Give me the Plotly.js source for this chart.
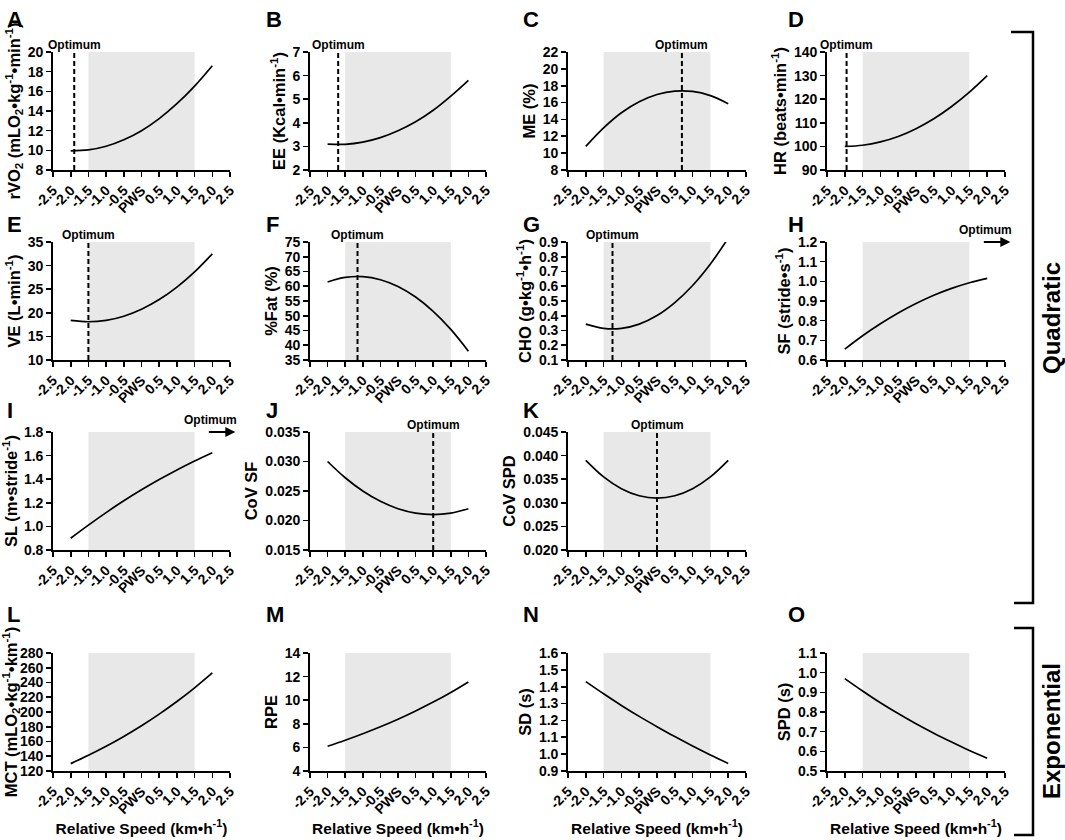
<!DOCTYPE html>
<html>
<head>
<meta charset="utf-8">
<script src="https://cdn.plot.ly/plotly-3.0.1.min.js"></script>
<style>
  body { margin: 0; background: #fff; }
  #chart { width: 1065px; height: 840px; }
</style>
</head>
<body>
<div id="chart"></div>
<script>
// relative speed (km/h from PWS) where the fitted curves were read
const speed = [-2.0, -1.5, -1.0, -0.5, 0.0, 0.5, 1.0, 1.5, 2.0];
const xTickVals = [-2.5, -2.0, -1.5, -1.0, -0.5, 0, 0.5, 1.0, 1.5, 2.0, 2.5];
const xTickText = ["-2.5", "-2.0", "-1.5", "-1.0", "-0.5", "PWS", "0.5", "1.0", "1.5", "2.0", "2.5"];
// grey band round the preferred walking speed
const pwsBand = [-1.5, 1.5];

// quadratic fits
const rVO2 = [9.95, 10.04, 10.41, 11.07, 12.00, 13.23, 14.74, 16.53, 18.60];
const EE = [3.10, 3.09, 3.18, 3.37, 3.66, 4.04, 4.53, 5.13, 5.80];
const ME = [10.8, 13.0, 14.8, 16.1, 16.96, 17.36, 17.32, 16.82, 15.87];
const HR = [100.0, 100.5, 101.9, 104.2, 107.5, 111.7, 116.9, 123.0, 130.0];
const VE = [18.39, 18.10, 18.39, 19.28, 20.75, 22.80, 25.45, 28.68, 32.50];
const pctFat = [61.46, 62.99, 63.24, 62.22, 59.93, 56.36, 51.51, 45.39, 38.0];
const CHO = [0.343, 0.314, 0.314, 0.343, 0.401, 0.489, 0.605, 0.751, 0.926];
const SF = [0.655, 0.723, 0.784, 0.839, 0.887, 0.929, 0.964, 0.993, 1.015];
const SL = [0.90, 1.011, 1.117, 1.217, 1.31, 1.397, 1.479, 1.555, 1.625];
const covSF = [0.030, 0.02725, 0.025, 0.02325, 0.022, 0.02125, 0.021, 0.02125, 0.022];
const covSPD = [0.039, 0.0355, 0.033, 0.0315, 0.031, 0.0315, 0.033, 0.0355, 0.039];
// exponential fits
const MCT = [130.0, 141.3, 153.5, 166.8, 181.3, 197.1, 214.2, 232.8, 253.0];
const RPE = [6.10, 6.61, 7.16, 7.75, 8.39, 9.09, 9.84, 10.66, 11.55];
const SD = [1.43, 1.358, 1.289, 1.224, 1.163, 1.104, 1.048, 0.995, 0.945];
const SPD = [0.97, 0.907, 0.847, 0.792, 0.740, 0.692, 0.647, 0.604, 0.565];

// optimum speed per panel (null = none, "up" = above the tested range)
const optimumSpeed = [-1.9, -1.7, 0.7, -1.95, -1.5, -1.15, -1.25, "up", "up", 1.0, 0.0, null, null, null, null];

// panels: letter, series, y title, y range, tick step, tick format, grid cell
const panels = [
  { letter: "A", y: rVO2, title: "rVO<sub>2</sub> (mLO<sub>2</sub>•kg<sup>-1</sup>•min<sup>-1</sup>)", range: [8, 20], dtick: 2, fmt: "", col: 0, row: 0 },
  { letter: "B", y: EE, title: "EE (Kcal•min<sup>-1</sup>)", range: [2, 7], dtick: 1, fmt: "", col: 1, row: 0 },
  { letter: "C", y: ME, title: "ME (%)", range: [8, 22], dtick: 2, fmt: "", col: 2, row: 0 },
  { letter: "D", y: HR, title: "HR (beats•min<sup>-1</sup>)", range: [90, 140], dtick: 10, fmt: "", col: 3, row: 0 },
  { letter: "E", y: VE, title: "VE (L•min<sup>-1</sup>)", range: [10, 35], dtick: 5, fmt: "", col: 0, row: 1 },
  { letter: "F", y: pctFat, title: "%Fat (%)", range: [35, 75], dtick: 5, fmt: "", col: 1, row: 1 },
  { letter: "G", y: CHO, title: "CHO (g•kg<sup>-1</sup>•h<sup>-1</sup>)", range: [0.1, 0.9], dtick: 0.1, fmt: ".1f", col: 2, row: 1 },
  { letter: "H", y: SF, title: "SF (stride•s<sup>-1</sup>)", range: [0.6, 1.2], dtick: 0.1, fmt: ".1f", col: 3, row: 1 },
  { letter: "I", y: SL, title: "SL (m•stride<sup>-1</sup>)", range: [0.8, 1.8], dtick: 0.2, fmt: ".1f", col: 0, row: 2 },
  { letter: "J", y: covSF, title: "CoV SF", range: [0.015, 0.035], dtick: 0.005, fmt: ".3f", col: 1, row: 2 },
  { letter: "K", y: covSPD, title: "CoV SPD", range: [0.020, 0.045], dtick: 0.005, fmt: ".3f", col: 2, row: 2 },
  { letter: "L", y: MCT, title: "MCT (mLO<sub>2</sub>•kg<sup>-1</sup>•km<sup>-1</sup>)", range: [120, 280], dtick: 20, fmt: "", col: 0, row: 3 },
  { letter: "M", y: RPE, title: "RPE", range: [4, 14], dtick: 2, fmt: "", col: 1, row: 3 },
  { letter: "N", y: SD, title: "SD (s)", range: [0.9, 1.6], dtick: 0.1, fmt: ".1f", col: 2, row: 3 },
  { letter: "O", y: SPD, title: "SPD (s)", range: [0.5, 1.1], dtick: 0.1, fmt: ".1f", col: 3, row: 3 }
];

// plot areas in page pixels
const W = 1065, H = 840;
const colPx = [[53, 230], [310, 486], [568, 746], [827, 1005]];
const rowPx = [[52, 170], [242, 360], [432, 550], [653, 771]];
const letterX = [5, 264, 521, 786];
const letterY = [5, 210, 396, 600];

const FONT = "Liberation Sans, Arial, sans-serif";
const boldFont = (size) => ({ family: FONT, size: size, color: "#000", weight: 700 });
const px = (v) => v / W, py = (v) => 1 - v / H;

let traces = [];
let shapes = [];
let annotations = [];
let layout = {
  width: W,
  height: H,
  margin: { l: 0, r: 0, t: 0, b: 0 },
  paper_bgcolor: "#fff",
  plot_bgcolor: "rgba(0,0,0,0)",
  showlegend: false,
  font: boldFont(14)
};

panels.forEach((p, i) => {
  let n = i === 0 ? "" : String(i + 1);
  let xa = "x" + n, ya = "y" + n;
  let bottomRow = p.row === 3;
  let cx = colPx[p.col], ry = rowPx[p.row];

  traces.push({
    x: speed, y: p.y, xaxis: xa, yaxis: ya,
    type: "scatter", mode: "lines",
    line: { color: "#000", width: 1.7, shape: "spline" },
    hoverinfo: "skip"
  });

  layout["xaxis" + n] = {
    domain: [px(cx[0]), px(cx[1])],
    anchor: ya,
    range: [-2.5, 2.5],
    tickmode: "array", tickvals: xTickVals, ticktext: xTickText,
    tickangle: -45,
    ticks: "outside", ticklen: 5, tickwidth: 1.6, tickcolor: "#000",
    showline: true, linecolor: "#000", linewidth: 1.8,
    showgrid: false, zeroline: false,
    tickfont: boldFont(14),
    title: bottomRow ? { text: "Relative Speed (km•h<sup>-1</sup>)", font: boldFont(15.5), standoff: 5 } : { text: "" }
  };
  layout["yaxis" + n] = {
    domain: [py(ry[1]), py(ry[0])],
    anchor: xa,
    range: p.range,
    dtick: p.dtick, tick0: p.range[0], tickformat: p.fmt,
    ticks: "outside", ticklen: 5, tickwidth: 1.6, tickcolor: "#000",
    showline: true, linecolor: "#000", linewidth: 1.8,
    showgrid: false, zeroline: false,
    tickfont: boldFont(14),
    title: { text: p.title, font: boldFont(16.5), standoff: 3 }
  };

  // PWS band
  shapes.push({
    type: "rect", layer: "below", xref: xa, yref: ya + " domain",
    x0: pwsBand[0], x1: pwsBand[1], y0: 0, y1: 1,
    fillcolor: "#e8e8e8", line: { width: 0 }
  });

  let opt = optimumSpeed[i];
  if (typeof opt === "number") {
    shapes.push({
      type: "line", xref: xa, yref: ya + " domain",
      x0: opt, x1: opt, y0: 0, y1: 1,
      line: { color: "#000", width: 2, dash: "5px,3px" }
    });
    annotations.push({
      xref: xa, yref: ya + " domain", x: opt, y: 1,
      xanchor: "center", yanchor: "bottom", yshift: -2,
      text: "Optimum", showarrow: false, font: boldFont(12)
    });
  } else if (opt === "up") {
    // optimum lies beyond the right end of the axis: text and arrow outside the plot
    let unit = (cx[1] - cx[0]) / 5;
    annotations.push({
      xref: "paper", yref: "paper", x: px(cx[0] + 4.45 * unit), y: py(ry[0]),
      xanchor: "center", yanchor: "bottom", yshift: 3,
      text: "Optimum", showarrow: false, font: boldFont(12)
    });
    annotations.push({
      xref: "paper", yref: "paper", x: px(cx[0] + 5.15 * unit), y: py(ry[0]),
      axref: "pixel", ayref: "pixel", ax: -28, ay: 0,
      text: "", showarrow: true, arrowhead: 2, arrowsize: 1, arrowwidth: 2, arrowcolor: "#000"
    });
  }

  // panel letter
  annotations.push({
    xref: "paper", yref: "paper",
    x: px(letterX[p.col]), y: py(letterY[p.row]),
    xanchor: "left", yanchor: "top",
    text: p.letter, showarrow: false, font: boldFont(22)
  });
});

// brackets for the two model groups
shapes.push({
  type: "path", xref: "paper", yref: "paper",
  path: `M ${px(1011)} ${py(32)} L ${px(1033)} ${py(32)} L ${px(1033)} ${py(603)} L ${px(1014)} ${py(603)}`,
  line: { color: "#000", width: 2.5 }
});
shapes.push({
  type: "path", xref: "paper", yref: "paper",
  path: `M ${px(1014)} ${py(628)} L ${px(1033)} ${py(628)} L ${px(1033)} ${py(835)} L ${px(1014)} ${py(835)}`,
  line: { color: "#000", width: 2.5 }
});
annotations.push({
  xref: "paper", yref: "paper", x: px(1051), y: py(318),
  text: "Quadratic", textangle: -90, showarrow: false,
  xanchor: "center", yanchor: "middle", font: boldFont(24)
});
annotations.push({
  xref: "paper", yref: "paper", x: px(1051), y: py(731),
  text: "Exponential", textangle: -90, showarrow: false,
  xanchor: "center", yanchor: "middle", font: boldFont(24)
});

layout.shapes = shapes;
layout.annotations = annotations;

Plotly.newPlot("chart", traces, layout, { staticPlot: true, displayModeBar: false });
</script>
</body>
</html>
